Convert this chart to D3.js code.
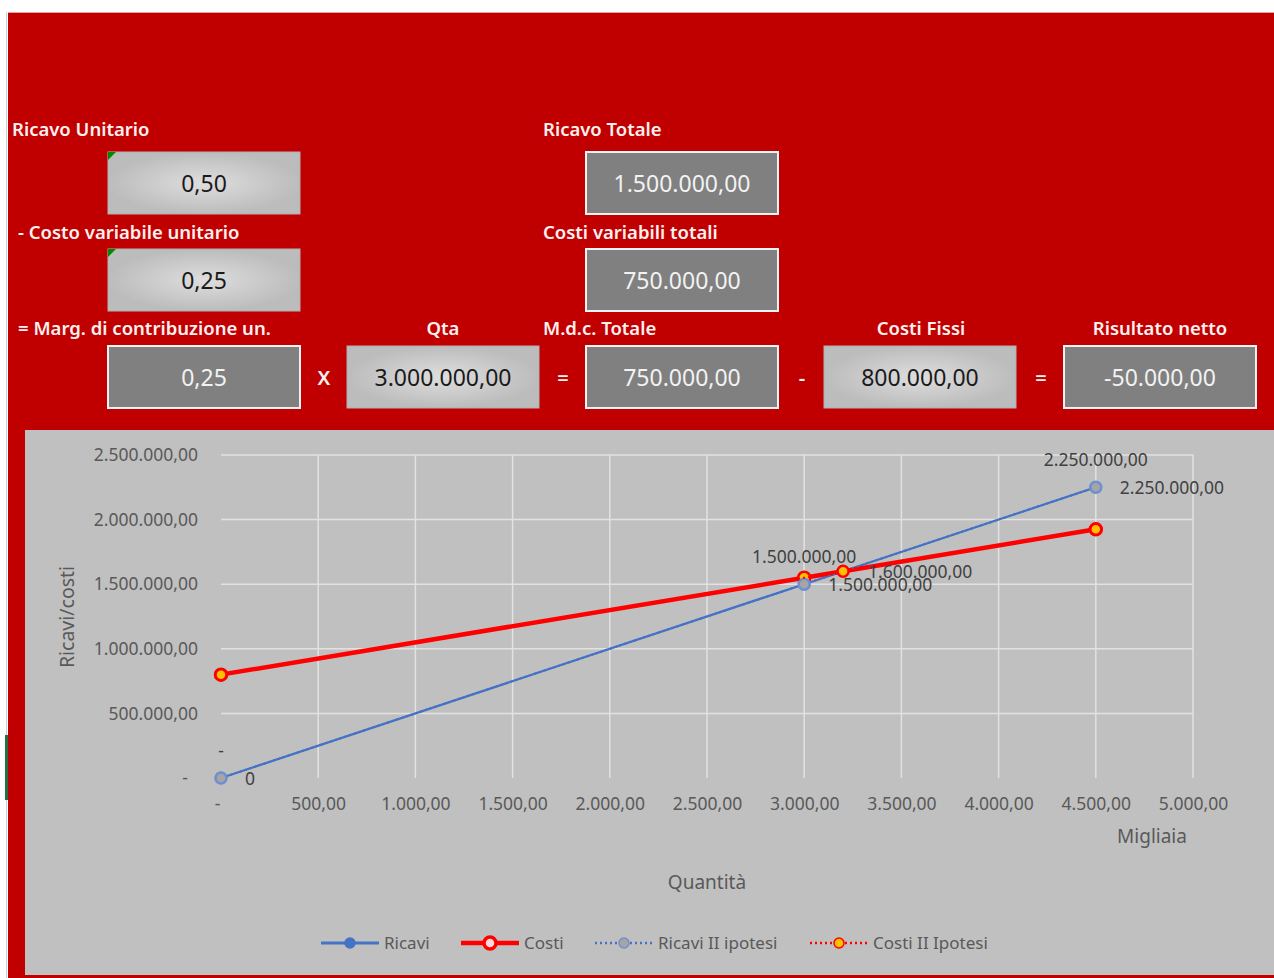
<!DOCTYPE html>
<html>
<head>
<meta charset="utf-8">
<script src="https://cdn.jsdelivr.net/npm/d3@7/dist/d3.min.js"></script>
<style>
  body { margin: 0; background: #fff; }
  text { font-family: "Noto Sans", "Open Sans", sans-serif; }
</style>
</head>
<body>
<div id="d3"></div>
<script>
// chart data (quantity in thousands)
let quantita = [0, 3000, 4500];
let ricavi = [0, 1500000, 2250000];
let costi = [800000, 1550000, 1925000];
let quantitaII = [0, 3200, 4500];
let ricaviII = [0, 1500000, 2250000];
let costiII = [800000, 1600000, 1925000];
let ricaviLabels = ['-', '1.500.000,00', '2.250.000,00'];
let ricaviIILabels = ['0', '1.500.000,00', '2.250.000,00'];
let costiIILabels = [null, '1.600.000,00', null];
let yTicks = [0, 500000, 1000000, 1500000, 2000000, 2500000];
let xTicks = [0, 500, 1000, 1500, 2000, 2500, 3000, 3500, 4000, 4500, 5000];
let legendNames = ['Ricavi', 'Costi', 'Ricavi II ipotesi', 'Costi II Ipotesi'];

// calculator panel values
let panelLabels = ['Ricavo Unitario', '- Costo variabile unitario', '= Marg. di contribuzione un.',
  'Ricavo Totale', 'Costi variabili totali', 'M.d.c. Totale', 'Qta', 'Costi Fissi', 'Risultato netto'];
let panelValues = ['0,50', '0,25', '0,25', '1.500.000,00', '750.000,00', '750.000,00',
  '3.000.000,00', '800.000,00', '-50.000,00'];

let w = 1274;
let h = 978;
let svg = d3.select('#d3')
  .append('svg')
  .attr('width', w)
  .attr('height', h);

let defs = svg.append('defs');
let grad = defs.append('radialGradient').attr('id', 'lightBox');
grad.append('stop').attr('offset', '0%').attr('stop-color', '#dedede');
grad.append('stop').attr('offset', '100%').attr('stop-color', '#bcbcbc');

// red background
svg.append('rect').attr('x', 8).attr('y', 13).attr('width', w - 8).attr('height', h - 13).attr('fill', '#c00000');
svg.append('line').attr('x1', 8).attr('x2', w).attr('y1', 12.5).attr('y2', 12.5).attr('stroke', '#e8a0a0');
svg.append('line').attr('x1', 6.5).attr('x2', 6.5).attr('y1', 12).attr('y2', h).attr('stroke', '#d0d0d0');
svg.append('rect').attr('x', 5).attr('y', 735).attr('width', 3).attr('height', 65).attr('fill', '#217346');

// panel labels
let labelPos = [[12, 'start'], [18, 'start'], [18, 'start'], [543, 'start'], [543, 'start'], [543, 'start'], [443, 'middle'], [921, 'middle'], [1160, 'middle']];
let labelY = [136, 239, 335, 136, 239, 335, 335, 335, 335];
svg.selectAll('text.plabel')
  .data(panelLabels)
  .enter()
  .append('text')
  .attr('class', 'plabel')
  .attr('x', function(d, i) { return labelPos[i][0]; })
  .attr('y', function(d, i) { return labelY[i]; })
  .attr('text-anchor', function(d, i) { return labelPos[i][1]; })
  .attr('fill', '#fff0f0')
  .attr('font-size', 18.5)
  .attr('font-weight', 600)
  .text(function(d) { return d; });

// panel boxes
let boxX = [108, 108, 108, 586, 586, 586, 347, 824, 1064];
let boxY = [152, 249, 346, 152, 249, 346, 346, 346, 346];
let boxLight = [true, true, false, false, false, false, true, true, false];
let boxes = svg.selectAll('g.box')
  .data(panelValues)
  .enter()
  .append('g')
  .attr('class', 'box')
  .attr('transform', function(d, i) { return 'translate(' + boxX[i] + ',' + boxY[i] + ')'; });

boxes.append('rect')
  .attr('width', 192)
  .attr('height', 62)
  .attr('fill', function(d, i) { return boxLight[i] ? 'url(#lightBox)' : '#808080'; })
  .attr('stroke', function(d, i) { return boxLight[i] ? '#b0b0b0' : '#f2f2f2'; })
  .attr('stroke-width', function(d, i) { return boxLight[i] ? 1 : 2; });

boxes.filter(function(d, i) { return i < 2; })
  .append('path')
  .attr('d', 'M0,0 L8,0 L0,8 Z')
  .attr('fill', '#008a00');

boxes.append('text')
  .attr('x', 96)
  .attr('y', 40)
  .attr('text-anchor', 'middle')
  .attr('font-size', 23)
  .attr('fill', function(d, i) { return boxLight[i] ? '#1a1a1a' : '#f2f2f2'; })
  .text(function(d) { return d; });

// operators between boxes
let ops = [['X', 324], ['=', 563], ['-', 802], ['=', 1041]];
svg.selectAll('text.op')
  .data(ops)
  .enter()
  .append('text')
  .attr('class', 'op')
  .attr('x', function(d) { return d[1]; })
  .attr('y', 385)
  .attr('text-anchor', 'middle')
  .attr('font-size', 20)
  .attr('font-weight', 600)
  .attr('fill', '#f2f2f2')
  .text(function(d) { return d[0]; });

// chart area
svg.append('rect').attr('x', 25).attr('y', 430).attr('width', w - 25).attr('height', 545).attr('fill', '#c0c0c0');

let it = d3.formatLocale({ decimal: ',', thousands: '.', grouping: [3], currency: ['', ''] });
let fmt = function(d) { return d === 0 ? '-' : it.format(',.2f')(d); };

let x = d3.scaleLinear().domain([0, 5000]).range([221, 1193]);
let y = d3.scaleLinear().domain([0, 2500000]).range([778, 455]);

// gridlines
svg.append('g').selectAll('line')
  .data(yTicks.filter(function(d) { return d > 0; }))
  .enter()
  .append('line')
  .attr('x1', x(0)).attr('x2', x(5000))
  .attr('y1', function(d) { return y(d); })
  .attr('y2', function(d) { return y(d); })
  .attr('stroke', '#e2e2e2')
  .attr('stroke-width', 1.5);

svg.append('g').selectAll('line')
  .data(xTicks.filter(function(d) { return d > 0; }))
  .enter()
  .append('line')
  .attr('y1', y(0)).attr('y2', y(2500000))
  .attr('x1', function(d) { return x(d); })
  .attr('x2', function(d) { return x(d); })
  .attr('stroke', '#e2e2e2')
  .attr('stroke-width', 1.5);

// axes
let yAxis = svg.append('g')
  .attr('transform', 'translate(198,0)')
  .call(d3.axisLeft(y).tickValues(yTicks).tickFormat(fmt).tickSize(0).tickPadding(0));
let xAxis = svg.append('g')
  .attr('transform', 'translate(0,' + y(0) + ')')
  .call(d3.axisBottom(x).tickValues(xTicks).tickFormat(fmt).tickSize(0).tickPadding(20));
[yAxis, xAxis].forEach(function(a) {
  a.select('.domain').remove();
  a.selectAll('text')
    .attr('font-family', '"Noto Sans", sans-serif')
    .attr('font-size', 17.5)
    .attr('fill', '#595959');
});
yAxis.selectAll('.tick text').filter(function(d) { return d === 0; }).attr('dx', -10);
xAxis.selectAll('.tick text').filter(function(d) { return d === 0; }).attr('dx', -4);

// axis titles
svg.append('text').attr('transform', 'translate(74,617) rotate(-90)').attr('text-anchor', 'middle')
  .attr('font-size', 19.5).attr('fill', '#595959').text('Ricavi/costi');
svg.append('text').attr('x', 707).attr('y', 889).attr('text-anchor', 'middle')
  .attr('font-size', 19).attr('fill', '#595959').text('Quantità');
svg.append('text').attr('x', 1152).attr('y', 843).attr('text-anchor', 'middle')
  .attr('font-size', 19).attr('fill', '#595959').text('Migliaia');

// series
let line = d3.line()
  .x(function(d) { return x(d[0]); })
  .y(function(d) { return y(d[1]); });

let series = [
  { q: quantita, v: ricavi, color: '#4472c4', width: 2.25, dash: null, fill: '#4472c4', mstroke: '#4472c4', r: 5 },
  { q: quantita, v: costi, color: '#ff0000', width: 4.5, dash: null, fill: '#ffc000', mstroke: '#ff0000', r: 6 },
  { q: quantita, v: ricaviII, color: '#4472c4', width: 2, dash: '2,3', fill: '#a5a5a5', mstroke: '#6f8fd0', r: 5.5 },
  { q: quantitaII, v: costiII, color: '#ff0000', width: 2, dash: '2,3', fill: '#ffc000', mstroke: '#ff0000', r: 5.5 }
];

series.forEach(function(s) {
  let pts = s.q.map(function(d, i) { return [d, s.v[i]]; });
  svg.append('path')
    .datum(pts)
    .attr('d', line)
    .attr('fill', 'none')
    .attr('stroke', s.color)
    .attr('stroke-width', s.width)
    .attr('stroke-dasharray', s.dash);
  svg.append('g').selectAll('circle')
    .data(pts)
    .enter()
    .append('circle')
    .attr('cx', function(d) { return x(d[0]); })
    .attr('cy', function(d) { return y(d[1]); })
    .attr('r', s.r)
    .attr('fill', s.fill)
    .attr('stroke', s.mstroke)
    .attr('stroke-width', 2.5);
});

// data labels
function addLabels(qs, vs, labels, dx, dy, anchor) {
  svg.append('g').selectAll('text')
    .data(labels)
    .enter()
    .filter(function(d) { return d !== null; })
    .append('text')
    .attr('x', function(d) { return x(qs[labels.indexOf(d)]) + dx; })
    .attr('y', function(d) { return y(vs[labels.indexOf(d)]) + dy; })
    .attr('text-anchor', anchor)
    .attr('font-size', 17.5)
    .attr('fill', '#404040')
    .text(function(d) { return d; });
}
addLabels(quantita, ricavi, ricaviLabels, 0, -21, 'middle');
addLabels(quantita, ricaviII, ricaviIILabels, 24, 7, 'start');
addLabels(quantitaII, costiII, costiIILabels, 25, 7, 'start');

// legend
let legendX = [321, 461, 595, 810];
let legend = svg.selectAll('g.legend')
  .data(legendNames)
  .enter()
  .append('g')
  .attr('class', 'legend')
  .attr('transform', function(d, i) { return 'translate(' + legendX[i] + ',943)'; });

legend.append('line')
  .attr('x1', 0).attr('x2', 58)
  .attr('stroke', function(d, i) { return series[i].color; })
  .attr('stroke-width', function(d, i) { return i === 1 ? 4.5 : (i === 0 ? 3 : 2.5); })
  .attr('stroke-dasharray', function(d, i) { return series[i].dash; });
legend.append('circle')
  .attr('cx', 29)
  .attr('r', function(d, i) { return i === 1 ? 6 : 5; })
  .attr('fill', function(d, i) { return i === 1 ? '#ffd8d8' : series[i].fill; })
  .attr('stroke', function(d, i) { return series[i].mstroke; })
  .attr('stroke-width', function(d, i) { return i === 1 ? 3.5 : 1.5; });
legend.append('text')
  .attr('x', 63)
  .attr('y', 6)
  .attr('font-size', 17)
  .attr('fill', '#595959')
  .text(function(d) { return d; });
</script>
</body>
</html>
